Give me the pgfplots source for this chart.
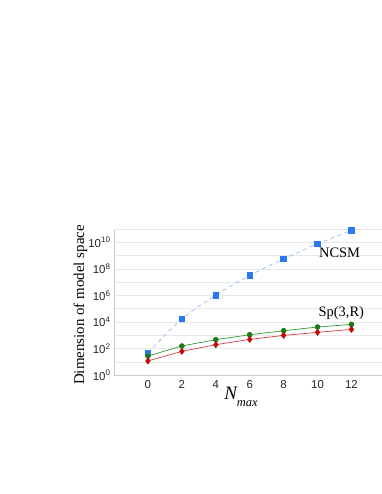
\documentclass[border=0pt]{standalone}
\usepackage{pgfplots}
\pgfplotsset{compat=1.18}
\usepackage{fontspec}
\setmainfont{Liberation Serif}
\setsansfont{Liberation Sans}
\definecolor{ncsmline}{HTML}{9DBDF5}
\definecolor{ncsmmark}{HTML}{2A78F2}
\definecolor{spg}{HTML}{2E9A2E}
\definecolor{spgm}{HTML}{1A7A1A}
\definecolor{spr}{HTML}{D83A3A}
\definecolor{sprm}{HTML}{C00A0A}
\begin{document}
\begin{tikzpicture}
\useasboundingbox (0,0) rectangle (382bp,494bp);
\begin{axis}[
  at={(114bp,118.7bp)}, anchor=south west,
  scale only axis, width=268bp, height=146.3bp,
  ymode=log, log basis y=10,
  xmin=-2, xmax=13.8, ymin=1, ymax=1e11,
  xtick={0,2,4,6,8,10,12},
  ytick={1,1e2,1e4,1e6,1e8,1e10},
  yticklabels={10\textsuperscript{0},10\textsuperscript{2},10\textsuperscript{4},10\textsuperscript{6},10\textsuperscript{8},10\textsuperscript{10}},
  minor ytick={1e1,1e3,1e5,1e7,1e9},
  extra y ticks={1e11}, extra y tick labels={},
  extra y tick style={grid style={gray!45, line width=1.2pt}},
  ymajorgrids, yminorgrids,
  major grid style={gray!18, line width=0.6pt},
  minor grid style={gray!18, line width=0.6pt},
  axis x line*=bottom, axis y line*=left,
  axis line style={gray!40, line width=0.8pt, -},
  major tick length=0pt, minor tick length=0pt,
  /pgf/number format/assume math mode=true,
  tick label style={font=\sffamily\fontsize{11.5}{13}\selectfont, text=black!85},
  xticklabel style={yshift=-2bp},
  clip=false,
]
\addplot[ncsmline, dash pattern=on 4bp off 3.5bp, line width=0.8pt, smooth, tension=0.5,
  mark=square*, mark size=2.8bp, mark options={solid, fill=ncsmmark, draw=ncsmmark}]
  coordinates {(0,50) (2,1.7e4) (4,1.07e6) (6,3.2e7) (8,5.6e8) (10,7.6e9) (12,7.9e10)};
\addplot[spg, line width=0.7pt,
  mark=*, mark size=2.4bp, mark options={fill=spgm, draw=spgm}]
  coordinates {(0,28) (2,160) (4,480) (6,1120) (8,2240) (10,4270) (12,6760)};
\addplot[spr, line width=0.7pt,
  mark=diamond*, mark size=3bp, mark options={fill=sprm, draw=sprm}]
  coordinates {(0,12) (2,63) (4,200) (6,500) (8,1000) (10,1700) (12,2820)};
\node[font=\fontsize{14.5}{16}\selectfont] at (axis cs:11.3,1.6e9) {NCSM};
\node[font=\fontsize{14.5}{16}\selectfont] at (axis cs:11.4,4.8e4) {Sp(3,R)};
\end{axis}
\node[rotate=90, font=\fontsize{15}{17}\selectfont] at (80.5bp,189bp) {Dimension of model space};
\node[inner sep=0pt] at (241bp,97bp) {{\fontsize{19}{20}\selectfont\textit{N}}\hspace{-1bp}\raisebox{-7.5bp}{\fontsize{12.5}{13}\selectfont\textit{max}}};
\end{tikzpicture}
\end{document}
